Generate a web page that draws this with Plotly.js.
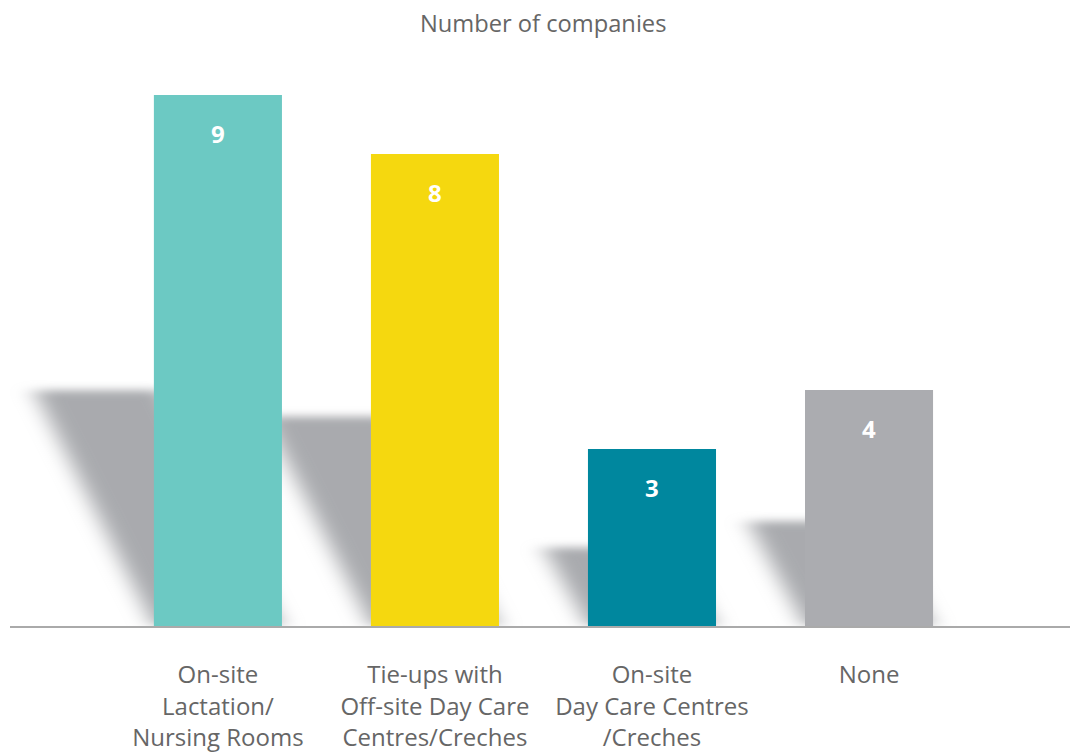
<!DOCTYPE html>
<html>
<head>
<meta charset="utf-8">
<script src="https://cdn.plot.ly/plotly-3.0.1.min.js"></script>
<style>
  html, body { margin: 0; padding: 0; background: #ffffff; }
  #chart { width: 1070px; height: 753px; }
</style>
</head>
<body>
<div id="chart"></div>
<script>
// ---- data ----
const categories = [
  "On-site<br>Lactation/<br>Nursing Rooms",
  "Tie-ups with<br>Off-site Day Care<br>Centres/Creches",
  "On-site<br>Day Care Centres<br>/Creches",
  "None"
];
const values = [9, 8, 3, 4];
const barColors = ["#6CC9C3", "#F5D80F", "#00879E", "#ABACB0"];
const chartTitle = "Number of companies";

// ---- style ----
const shadowColor = "#A9AAAE";
const barWidth = 0.59;
const shadowHeightRatio = 0.444;   // shadow height relative to bar value
const shadowSlant = 0.058;         // horizontal offset per unit of value (category units)
const shadowSlantBase = 0.03;
const fontFamily = "'Open Sans', 'Noto Sans', sans-serif";

const positions = values.map((v, i) => i);

const trace = {
  type: "bar",
  x: positions,
  y: values,
  width: barWidth,
  marker: { color: barColors, line: { width: 0 } },
  hoverinfo: "skip",
  showlegend: false
};

// decorative blurred shadows computed from the data
const shapes = values.map((v, i) => {
  const left = positions[i] - barWidth / 2;
  const right = positions[i] + barWidth / 2;
  const sh = v * shadowHeightRatio;
  const dx = v * shadowSlant + shadowSlantBase;
  return {
    type: "path",
    xref: "x", yref: "y",
    layer: "below",
    path: `M ${left} 0 L ${right} 0 L ${right - dx} ${sh} L ${left - dx} ${sh} Z`,
    fillcolor: shadowColor,
    line: { width: 0 }
  };
});

const annotations = values.map((v, i) => ({
  x: positions[i], y: v, xref: "x", yref: "y",
  text: String(v),
  showarrow: false,
  yanchor: "middle",
  yshift: -38,
  font: { family: fontFamily, size: 24, color: "#ffffff", weight: 700 }
}));

const layout = {
  width: 1070, height: 753,
  margin: { l: 10, r: 0, t: 36, b: 127 },
  paper_bgcolor: "#ffffff",
  plot_bgcolor: "rgba(0,0,0,0)",
  title: {
    text: chartTitle,
    x: 0.503, xref: "paper", xanchor: "center",
    y: 1 - 24 / 753, yref: "container", yanchor: "middle",
    font: { family: fontFamily, size: 23.7, color: "#666666" }
  },
  xaxis: {
    range: [-0.958, 3.926],
    tickmode: "array",
    tickvals: positions,
    ticktext: categories,
    showline: true, linecolor: "#AAAAAA", linewidth: 1.5,
    ticks: "outside", ticklen: 27, tickcolor: "rgba(0,0,0,0)",
    showgrid: false, zeroline: false,
    tickfont: { family: fontFamily, size: 24, color: "#666666" },
    fixedrange: true
  },
  yaxis: {
    range: [0, 10],
    showticklabels: false, showgrid: false, zeroline: false, showline: false,
    fixedrange: true
  },
  shapes: shapes,
  annotations: annotations,
  bargap: 0.41
};

function applyBlur(gd) {
  const svg = gd.querySelector("svg.main-svg");
  const ns = "http://www.w3.org/2000/svg";
  if (!svg.querySelector("#shadowBlur")) {
    let defs = svg.querySelector("defs");
    if (!defs) { defs = document.createElementNS(ns, "defs"); svg.insertBefore(defs, svg.firstChild); }
    const filter = document.createElementNS(ns, "filter");
    filter.setAttribute("id", "shadowBlur");
    filter.setAttribute("filterUnits", "userSpaceOnUse");
    filter.setAttribute("x", "-200"); filter.setAttribute("y", "-200");
    filter.setAttribute("width", "1500"); filter.setAttribute("height", "1200");
    const blur = document.createElementNS(ns, "feGaussianBlur");
    blur.setAttribute("stdDeviation", "11 4");
    filter.appendChild(blur);
    defs.appendChild(filter);
  }
  gd.querySelectorAll(".shapelayer path").forEach(p => {
    p.setAttribute("filter", "url(#shadowBlur)");
    p.style.filter = "url(#shadowBlur)";
  });
}

Plotly.newPlot("chart", [trace], layout, { displayModeBar: false, staticPlot: true }).then(gd => {
  applyBlur(gd);
  setTimeout(() => applyBlur(gd), 50);
});
</script>
</body>
</html>
